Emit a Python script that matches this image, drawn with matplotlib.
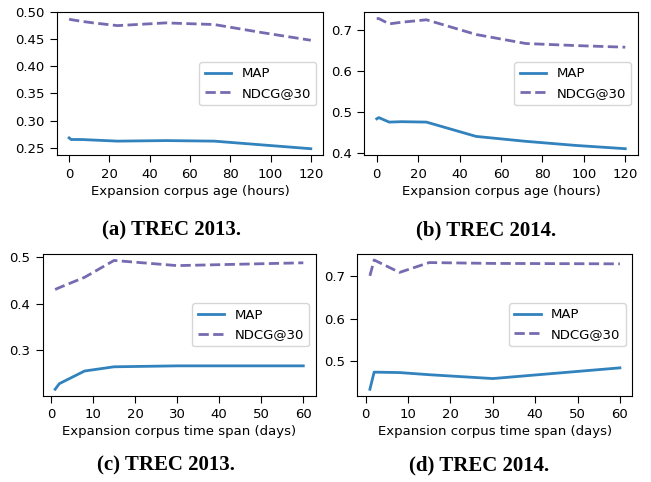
import matplotlib
matplotlib.use('Agg')
import matplotlib.pyplot as plt

# age of expansion corpus (hours)
hours = [0, 1, 6, 12, 24, 48, 72, 96, 120]
map_2013_age = [0.268, 0.265, 0.265, 0.264, 0.262, 0.263, 0.262, 0.255, 0.248]
ndcg_2013_age = [0.487, 0.486, 0.483, 0.480, 0.475, 0.480, 0.477, 0.462, 0.448]
map_2014_age = [0.483, 0.486, 0.475, 0.476, 0.475, 0.440, 0.428, 0.418, 0.410]
ndcg_2014_age = [0.728, 0.728, 0.715, 0.719, 0.725, 0.689, 0.667, 0.662, 0.658]

# time span of expansion corpus (days)
days = [1, 2, 8, 15, 30, 60]
map_2013_span = [0.217, 0.229, 0.256, 0.265, 0.267, 0.267]
ndcg_2013_span = [0.430, 0.434, 0.456, 0.492, 0.481, 0.487]
map_2014_span = [0.435, 0.475, 0.474, 0.469, 0.460, 0.485]
ndcg_2014_span = [0.700, 0.737, 0.708, 0.731, 0.729, 0.728]

captions = ['(a) TREC 2013.', '(b) TREC 2014.', '(c) TREC 2013.', '(d) TREC 2014.']

blue = '#3182bd'
purple = '#756bb1'

fig = plt.figure(figsize=(6.51, 4.82), dpi=100)
plt.rcParams['font.size'] = 9.5

boxes = [
    [0.0876, 0.678, 0.4084, 0.297],
    [0.5596, 0.678, 0.4200, 0.297],
    [0.0656, 0.179, 0.4194, 0.294],
    [0.5490, 0.179, 0.4224, 0.295],
]
panels = [
    (hours, map_2013_age, ndcg_2013_age, 'Expansion corpus age (hours)'),
    (hours, map_2014_age, ndcg_2014_age, 'Expansion corpus age (hours)'),
    (days, map_2013_span, ndcg_2013_span, 'Expansion corpus time span (days)'),
    (days, map_2014_span, ndcg_2014_span, 'Expansion corpus time span (days)'),
]

for i in range(4):
    x, m, n, xl = panels[i]
    ax = fig.add_axes(boxes[i])
    ax.plot(x, m, color=blue, lw=2, label='MAP')
    ax.plot(x, n, color=purple, lw=2, ls='--', label='NDCG@30')
    ax.set_xlabel(xl, fontsize=9.5, labelpad=3)
    ax.tick_params(labelsize=9.5, length=5, pad=4)
    ax.legend(loc='center right', fontsize=9.5)
    if x is days:
        ax.set_xticks([0, 10, 20, 30, 40, 50, 60])
    else:
        ax.set_xticks([0, 20, 40, 60, 80, 100, 120])

axs = fig.axes
axs[0].set_yticks([0.25, 0.30, 0.35, 0.40, 0.45, 0.50])
axs[0].set_yticklabels(['0.25', '0.30', '0.35', '0.40', '0.45', '0.50'])
axs[1].set_yticks([0.4, 0.5, 0.6, 0.7])
axs[2].set_yticks([0.3, 0.4, 0.5])
axs[3].set_yticks([0.5, 0.6, 0.7])

cap_pos = [(0.264, 0.521), (0.746, 0.521), (0.255, 0.035), (0.736, 0.035)]
for (cx, cy), c in zip(cap_pos, captions):
    fig.text(cx, cy, c, ha='center', va='center', fontsize=15,
             fontweight='bold', family='Liberation Serif')

fig.savefig('out.png', dpi=100)
